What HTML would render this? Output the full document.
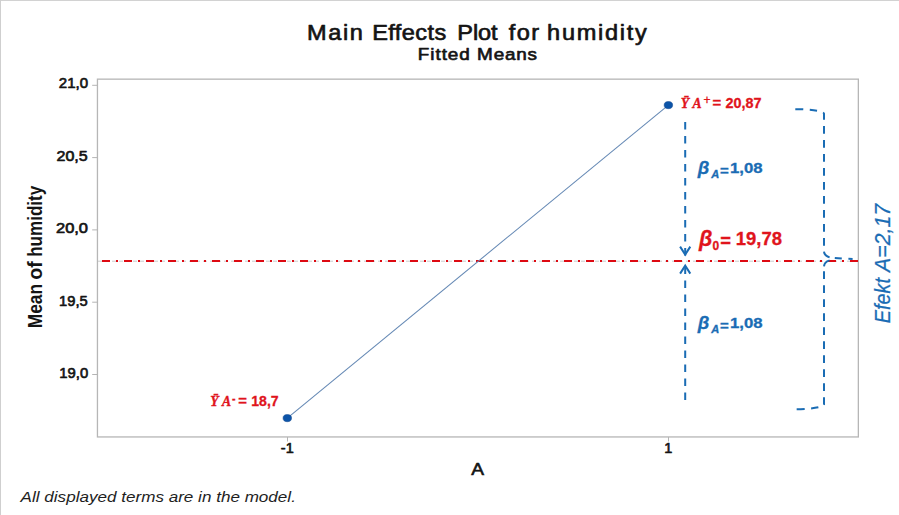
<!DOCTYPE html>
<html lang="en">
<head>
<meta charset="utf-8">
<title>Main Effects Plot for humidity</title>
<style>
  html, body { margin: 0; padding: 0; background: #ffffff; }
  body { width: 899px; height: 515px; overflow: hidden; position: relative; }
  svg { display: block; position: absolute; left: 0; top: 0; }
  text { font-family: "Liberation Sans", sans-serif; }
  .sb { font-weight: normal; fill: #141414; stroke: #141414; stroke-width: 0.65px; stroke-linejoin: round; }
  .ser { font-family: "Liberation Serif", serif; font-weight: bold; font-style: italic; stroke: #e0141c; stroke-width: 0.35px; }
  .red { fill: #e0141c; stroke: #e0141c; stroke-width: 0.3px; }
  .blu { fill: #1a6cb4; stroke: #1a6cb4; stroke-width: 0.3px; }
</style>
</head>
<body>
<svg width="899" height="515" viewBox="0 0 899 515">
  <rect x="0" y="0" width="899" height="515" fill="#ffffff"/>
  <!-- outer frame (top + left) -->
  <rect x="0" y="0" width="899" height="1" fill="#d2d2d2"/>
  <rect x="0" y="0" width="1" height="515" fill="#cfcfcf"/>

  <!-- titles -->
  <g class="sb" transform="translate(0 39.6) scale(1.1 1)" font-size="21.4">
    <text x="279.18" y="0" textLength="50.73" lengthAdjust="spacing">Main</text>
    <text x="338.36" y="0" textLength="67.27" lengthAdjust="spacing">Effects</text>
    <text x="415.73" y="0" textLength="36.64" lengthAdjust="spacing">Plot</text>
    <text x="462.55" y="0" textLength="27.55" lengthAdjust="spacing">for</text>
    <text x="497.36" y="0" textLength="90.64" lengthAdjust="spacing">humidity</text>
  </g>
  <g class="sb" transform="translate(0 60) scale(1.15 1)" font-size="16.4">
    <text x="363.30" y="0" textLength="45.22" lengthAdjust="spacing">Fitted</text>
    <text x="414.87" y="0" textLength="52.1" lengthAdjust="spacing">Means</text>
  </g>

  <!-- plot frame -->
  <rect x="97.45" y="79.15" width="760.9" height="357.8" fill="none" stroke="#b6b6b6" stroke-width="1.3"/>

  <!-- y ticks -->
  <g stroke="#b4b4b4" stroke-width="1">
    <line x1="92.2" y1="85.3" x2="97.5" y2="85.3"/>
    <line x1="92.2" y1="157.6" x2="97.5" y2="157.6"/>
    <line x1="92.2" y1="229.9" x2="97.5" y2="229.9"/>
    <line x1="92.2" y1="302.2" x2="97.5" y2="302.2"/>
    <line x1="92.2" y1="374.5" x2="97.5" y2="374.5"/>
    <line x1="287.5" y1="437" x2="287.5" y2="441.5"/>
    <line x1="668.5" y1="437" x2="668.5" y2="441.5"/>
  </g>

  <!-- y tick labels -->
  <g class="sb" font-size="14.5">
    <text x="58.8" y="88" textLength="29.2" lengthAdjust="spacingAndGlyphs">21,0</text>
    <text x="56.5" y="160.7" textLength="31.2" lengthAdjust="spacingAndGlyphs">20,5</text>
    <text x="56" y="233" textLength="32" lengthAdjust="spacingAndGlyphs">20,0</text>
    <text x="59.1" y="305.8" textLength="28.6" lengthAdjust="spacingAndGlyphs">19,5</text>
    <text x="59.3" y="377.9" textLength="28.9" lengthAdjust="spacingAndGlyphs">19,0</text>
  </g>

  <!-- y axis label -->
  <g class="sb" transform="translate(41.8 327.4) rotate(-90)" font-size="19.8" style="stroke-width:0;font-weight:bold">
    <text x="-0.9" y="0" textLength="44.4" lengthAdjust="spacingAndGlyphs">Mean</text>
    <text x="47.6" y="0" textLength="18.6" lengthAdjust="spacingAndGlyphs">of</text>
    <text x="70.6" y="0" textLength="71" lengthAdjust="spacingAndGlyphs">humidity</text>
  </g>

  <!-- x tick labels -->
  <g class="sb" font-size="14.5" text-anchor="middle">
    <text x="287.3" y="452.8">-1</text>
    <text x="668.3" y="453">1</text>
  </g>
  <text class="sb" x="471.2" y="474.9" font-size="16.6" textLength="12.8" lengthAdjust="spacingAndGlyphs">A</text>

  <!-- footnote -->
  <text x="20.6" y="502.2" font-size="15.4" font-style="italic" fill="#1e1e1e" textLength="275.3" lengthAdjust="spacingAndGlyphs">All displayed terms are in the model.</text>

  <!-- reference line -->
  <line x1="98" y1="261.2" x2="858" y2="261.2" stroke="#c4c4c4" stroke-width="0.9" stroke-dasharray="4 3"/>
  <line x1="102" y1="261" x2="858.6" y2="261" stroke="#dd0a12" stroke-width="2" stroke-dasharray="8 6 2 6"/>

  <!-- data line -->
  <line x1="287.3" y1="418.1" x2="668.4" y2="105.1" stroke="#6488b4" stroke-width="1.05"/>
  <ellipse cx="287.3" cy="418.1" rx="4.25" ry="3.6" fill="#0c54a8" stroke="#0a418a" stroke-width="0.5"/>
  <ellipse cx="668.4" cy="105.1" rx="4.25" ry="3.6" fill="#0c54a8" stroke="#0a418a" stroke-width="0.5"/>

  <!-- dashed arrows -->
  <g stroke="#1a6cb4" stroke-width="2" fill="none">
    <line x1="685.2" y1="122" x2="685.2" y2="255.5" stroke-dasharray="7.5 6.5"/>
    <polyline points="680.1,246.6 685.2,254.6 690.3,246.6"/>
    <line x1="685.2" y1="400" x2="685.2" y2="265.5" stroke-dasharray="7.5 6.5"/>
    <polyline points="680.1,273.6 685.2,265.6 690.3,273.6"/>
    <!-- brace -->
    <path d="M795.3 109.2 A28.7 4.4 0 0 1 824 113.6 V246.4" stroke-dasharray="7.7 6.3"/>
    <path d="M824 251.6 Q824.2 255.6 829.6 257.4"/>
    <path d="M834.8 258 L841.8 258.5"/>
    <path d="M848.4 258.7 L852.6 258.9"/>
    <path d="M829.6 260.4 Q824.4 261.8 824 266.4"/>
    <path d="M824 271.2 V404.6 A28.4 4.6 0 0 1 795.6 409.2" stroke-dasharray="7.7 6.3"/>
  </g>

  <!-- annotation labels -->
  <text class="red" y="107.7" font-weight="bold" font-size="14.8"><tspan class="ser" x="680.8" font-size="13.6">Ȳ</tspan><tspan class="ser" x="692.6" font-size="13.6">A</tspan><tspan x="703.4" dy="-3.4" font-size="12" font-weight="normal">+</tspan><tspan x="712.6" dy="3.4">=</tspan><tspan x="725.6" textLength="36" lengthAdjust="spacingAndGlyphs">20,87</tspan></text>

  <text class="red" y="406.4" font-weight="bold" font-size="14.8"><tspan class="ser" x="210.3" font-size="13.6">Ȳ</tspan><tspan class="ser" x="222.1" font-size="13.6">A</tspan><tspan x="232" dy="-4" font-size="10.5">-</tspan><tspan x="238.3" dy="4">=</tspan><tspan x="251.3" textLength="27.4" lengthAdjust="spacingAndGlyphs">18,7</tspan></text>

  <text class="blu" y="173.4" font-weight="bold" font-size="14.8"><tspan x="697.8" dy="1" font-style="italic" font-size="18.6">β</tspan><tspan x="711.3" dy="3.4" font-style="italic" font-size="10" textLength="8" lengthAdjust="spacingAndGlyphs">A</tspan><tspan x="720" dy="-2.2" font-size="15">=</tspan><tspan x="730" dy="-2.2" textLength="32.6" lengthAdjust="spacingAndGlyphs">1,08</tspan></text>
  <text class="blu" y="328.4" font-weight="bold" font-size="14.8"><tspan x="697.8" dy="1" font-style="italic" font-size="18.6">β</tspan><tspan x="711.3" dy="3.4" font-style="italic" font-size="10" textLength="8" lengthAdjust="spacingAndGlyphs">A</tspan><tspan x="720" dy="-2.2" font-size="15">=</tspan><tspan x="730" dy="-2.2" textLength="32.6" lengthAdjust="spacingAndGlyphs">1,08</tspan></text>

  <text class="red" y="245.4" font-weight="bold" font-size="18.4"><tspan x="699" dy="0.6" font-style="italic" font-size="21.5">β</tspan><tspan x="712.6" dy="3.8" font-size="12">0</tspan><tspan x="720.3" dy="-3">=</tspan><tspan x="735.8" dy="-1.4" textLength="46.2" lengthAdjust="spacingAndGlyphs">19,78</tspan></text>

  <g class="blu" transform="translate(890 322.6) rotate(-90)" font-size="21.2" font-style="italic" style="stroke:#1a6cb4;stroke-width:0.25px">
    <text x="-0.6" y="0" textLength="45.2" lengthAdjust="spacingAndGlyphs">Efekt</text>
    <text x="50.6" y="0" textLength="68.2" lengthAdjust="spacingAndGlyphs">A=2,17</text>
  </g>
</svg>
</body>
</html>
